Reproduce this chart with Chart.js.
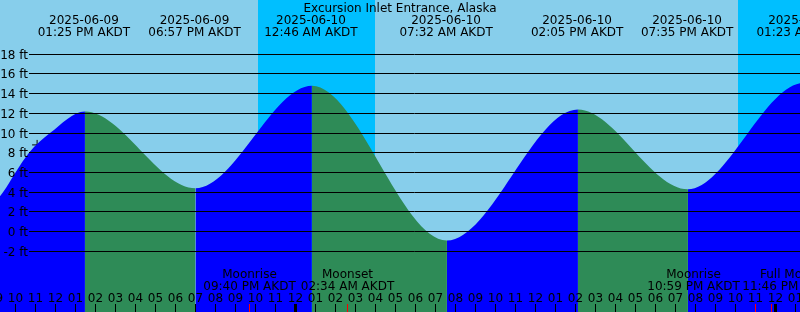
<!DOCTYPE html>
<html>
<head>
<meta charset="utf-8">
<script src="https://cdn.jsdelivr.net/npm/chart.js@4.4.1/dist/chart.umd.min.js"></script>
<style>
  html, body { margin: 0; padding: 0; background: #87ceeb; }
</style>
</head>
<body>
<canvas id="tide" width="800" height="312"></canvas>
<script>
// times are hours since 2025-06-09 00:00 AKDT
var stationName = 'Excursion Inlet Entrance, Alaska';

// water level curve (extremes plus a few readings on the first rise)
var tideHours = [0.5, 7.2, 9.375, 10.0, 10.675, 11.725, 13.47, 19.0, 24.82, 31.57, 38.12, 43.62, 49.42, 56.2];
var tideFeet  = [14.4, -0.6, 4.0, 6.0, 8.0, 10.0, 12.2, 4.4, 14.8, -0.9, 12.4, 4.3, 15.1, -1.3];

// high / low labels along the top
var eventHours = [6.88, 13.42, 18.95, 24.77, 31.53, 38.08, 43.58, 49.38];
var eventDates = ['2025-06-09', '2025-06-09', '2025-06-09', '2025-06-10',
                  '2025-06-10', '2025-06-10', '2025-06-10', '2025-06-11'];
var eventTimes = ['06:53 AM AKDT', '01:25 PM AKDT', '06:57 PM AKDT', '12:46 AM AKDT',
                  '07:32 AM AKDT', '02:05 PM AKDT', '07:35 PM AKDT', '01:23 AM AKDT'];

var nightStart = [22.1, 46.1];
var nightEnd   = [27.95, 51.95];

var moonHours = [21.667, 26.567, 46.983, 47.767];
var moonNames = ['Moonrise', 'Moonset', 'Moonrise', 'Full Moon'];
var moonTimes = ['09:40 PM AKDT', '02:34 AM AKDT', '10:59 PM AKDT', '11:46 PM AKDT'];

var midnightHours = [24, 48];

var nowHour = 11.08;
var nowFeet = 8.8;

var yTicks = [18, 16, 14, 12, 10, 8, 6, 4, 2, 0, -2];

var FONT = '12px "DejaVu Sans"';
var RISE = '#0000ff';
var FALL = '#2e8b57';

// label nudges so moon texts don't collide (pixels)
var moonShift = [0, 0, -62, 17];

function hourLabel(h) {
  var v = ((h % 12) + 12) % 12;
  if (v === 0) v = 12;
  return (v < 10 ? '0' : '') + v;
}

var backdrop = {
  id: 'backdrop',
  beforeDraw: function (chart) {
    var c = chart.ctx, xs = chart.scales.x;
    c.save();
    c.fillStyle = '#87ceeb';
    c.fillRect(0, 0, chart.width, chart.height);
    c.fillStyle = '#00bfff';
    for (var i = 0; i < nightStart.length; i++) {
      var a = Math.round(xs.getPixelForValue(nightStart[i]));
      var b = Math.round(xs.getPixelForValue(nightEnd[i]));
      c.fillRect(a, 0, b - a, chart.height);
    }
    c.restore();
  }
};

var overlay = {
  id: 'overlay',
  afterDatasetsDraw: function (chart) {
    var c = chart.ctx, xs = chart.scales.x, ys = chart.scales.y;
    var W = chart.width, H = chart.height;
    c.save();

    // horizontal depth lines + labels
    c.strokeStyle = '#000';
    c.lineWidth = 1;
    c.font = FONT;
    c.fillStyle = '#000';
    c.textAlign = 'right';
    c.textBaseline = 'alphabetic';
    yTicks.forEach(function (v) {
      var y = Math.floor(ys.getPixelForValue(v)) + 0.5;
      c.beginPath();
      c.moveTo(29, y);
      c.lineTo(W, y);
      c.stroke();
      c.fillText(v + ' ft', 28, y + 4.5);
    });

    // title and tide event labels
    c.textAlign = 'center';
    c.fillText(stationName, W / 2, 12);
    for (var i = 0; i < eventHours.length; i++) {
      var x = xs.getPixelForValue(eventHours[i]);
      c.fillText(eventDates[i], x, 24);
      c.fillText(eventTimes[i], x, 36);
    }

    // hour ticks along the bottom
    var h0 = Math.floor(xs.min), h1 = Math.ceil(xs.max);
    for (var h = h0; h <= h1; h++) {
      var hx = Math.floor(xs.getPixelForValue(h)) + 0.5;
      c.fillText(hourLabel(h), hx, 302);
      c.beginPath();
      c.moveTo(hx, 304);
      c.lineTo(hx, H);
      c.stroke();
    }
    midnightHours.forEach(function (h) {
      var mx = Math.floor(xs.getPixelForValue(h));
      c.fillRect(mx - 1, 304, 3, H - 304);
    });

    // moon events
    c.strokeStyle = '#ff0000';
    for (var j = 0; j < moonHours.length; j++) {
      var px = Math.round(xs.getPixelForValue(moonHours[j])) + 0.5;
      c.beginPath();
      c.moveTo(px, 304);
      c.lineTo(px, H);
      c.stroke();
      var lx = px + moonShift[j];
      c.fillText(moonNames[j], lx, 278);
      c.fillText(moonTimes[j], lx, 290);
    }
    c.restore();
  }
};

var tidePoints = tideHours.map(function (h, i) { return { x: h, y: tideFeet[i] }; });

new Chart(document.getElementById('tide').getContext('2d'), {
  type: 'line',
  data: {
    datasets: [{
      data: tidePoints,
      fill: 'start',
      backgroundColor: RISE,
      borderWidth: 0,
      pointRadius: 0,
      cubicInterpolationMode: 'monotone',
      segment: {
        backgroundColor: function (ctx) {
          return ctx.p1.parsed.y > ctx.p0.parsed.y ? RISE : FALL;
        }
      }
    }, {
      data: [{ x: nowHour, y: nowFeet }],
      showLine: false,
      pointStyle: 'cross',
      pointRadius: 5,
      borderColor: '#000',
      borderWidth: 1
    }]
  },
  options: {
    responsive: false,
    animation: false,
    events: [],
    layout: { padding: 0, autoPadding: false },
    elements: { line: { capBezierPoints: false } },
    plugins: { legend: { display: false }, tooltip: { enabled: false } },
    scales: {
      x: { type: 'linear', min: 9.225, max: 49.225, display: false },
      y: { type: 'linear', min: -8.16, max: 23.51, display: false }
    }
  },
  plugins: [backdrop, overlay]
});
</script>
</body>
</html>
